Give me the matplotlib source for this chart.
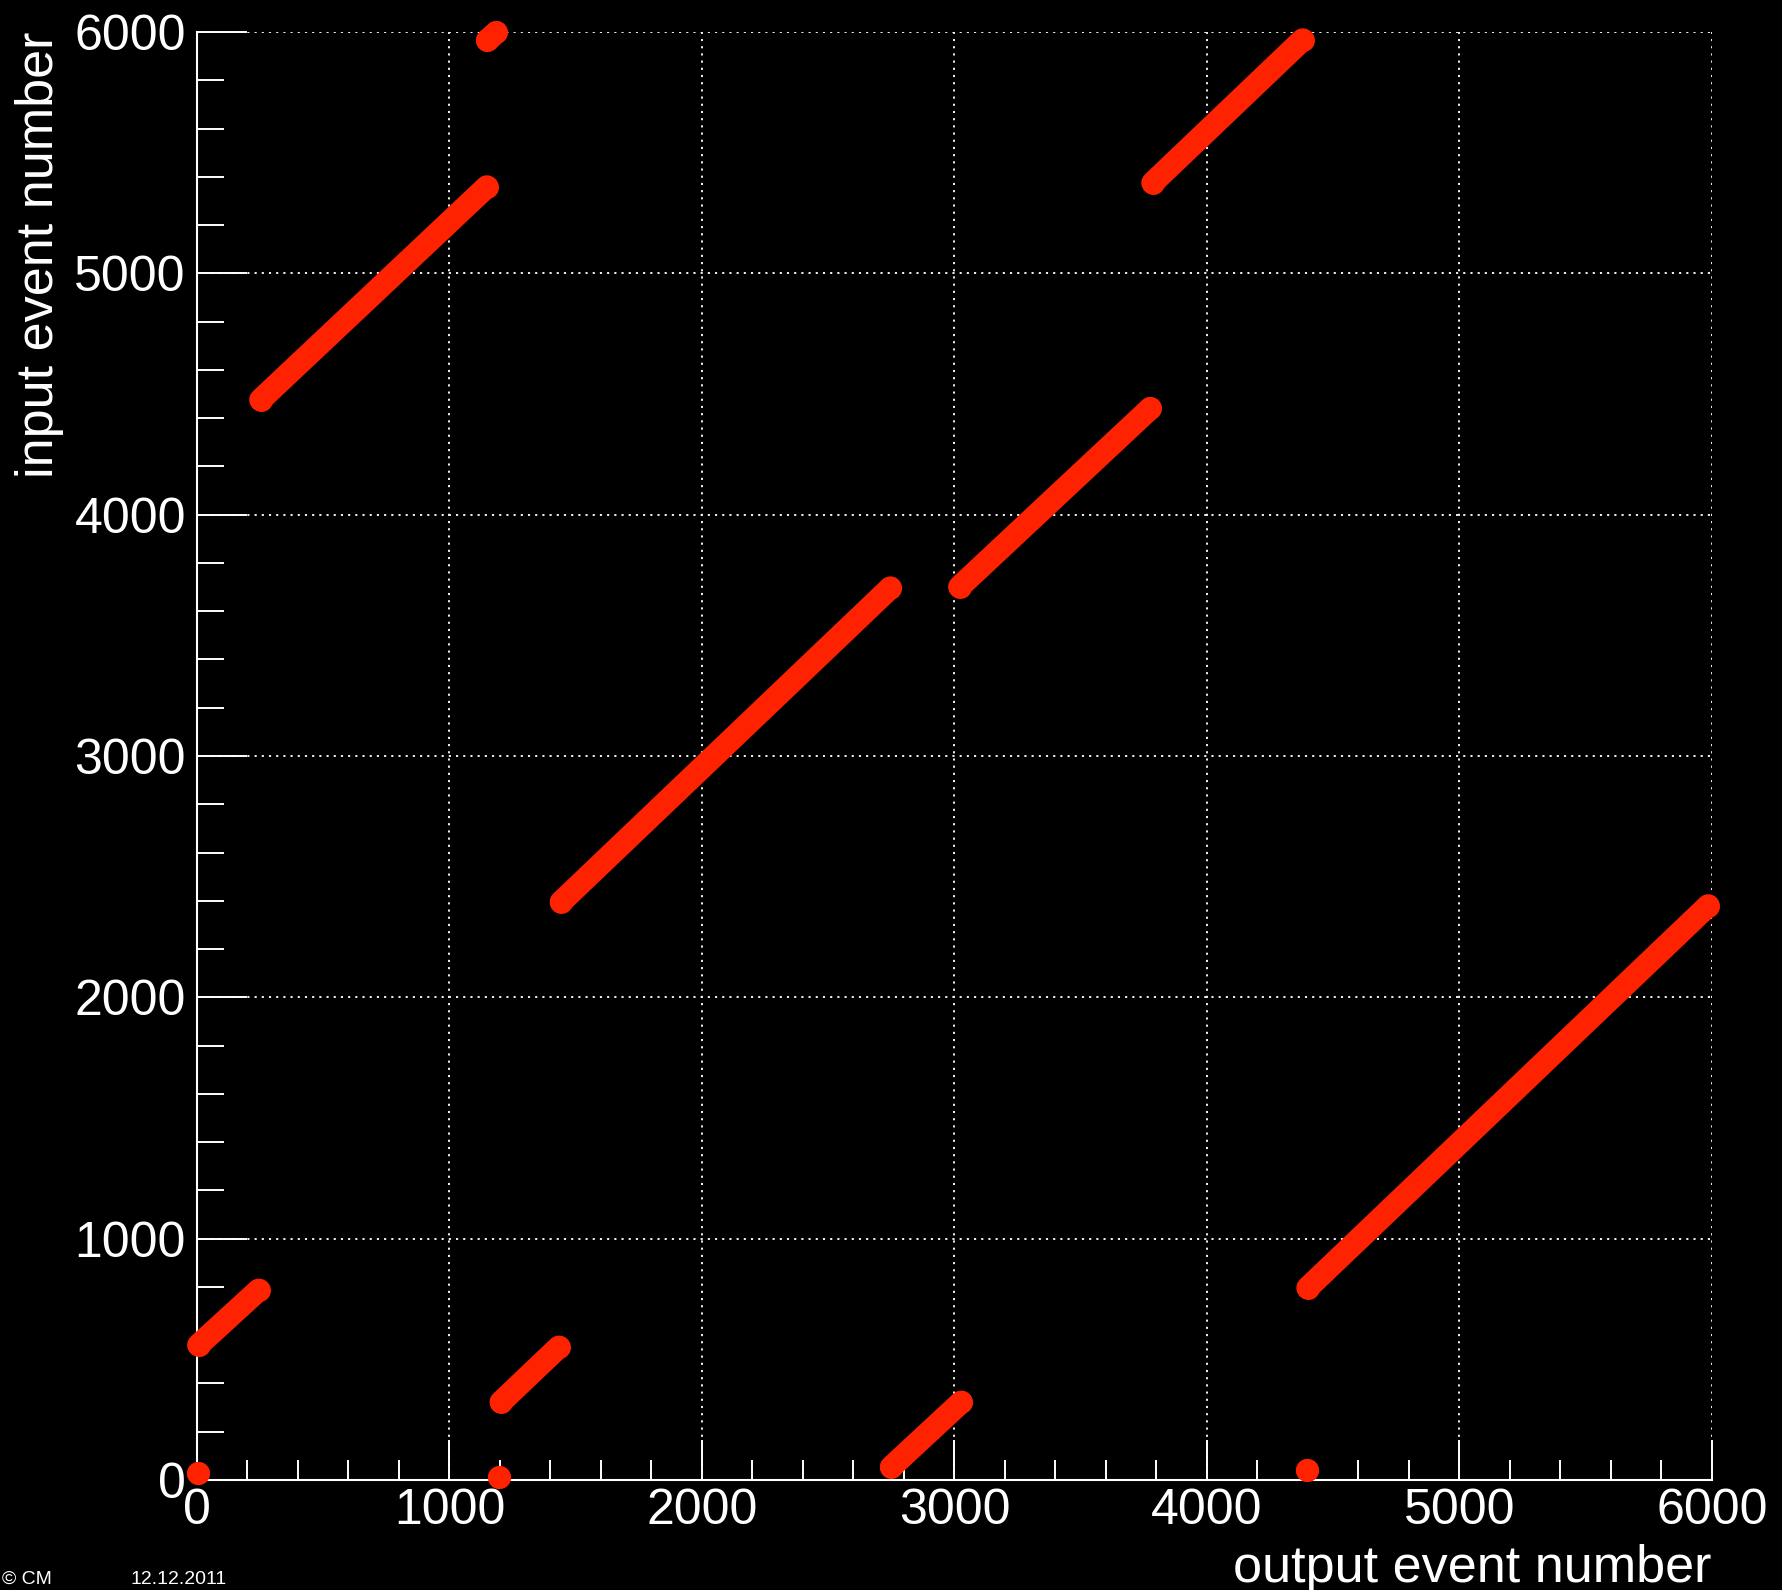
import matplotlib
matplotlib.use("Agg")
import matplotlib.pyplot as plt
from matplotlib.ticker import MultipleLocator

# Segments of the output->input event mapping (start/end points of each run)
out_start = [2, 6, 252, 1150, 1195, 1204, 1442, 2750, 3020, 3785, 4395, 4399]
out_end   = [2, 244, 1148, 1185, 1195, 1433, 2746, 3027, 3775, 4379, 4395, 5985]
in_start  = [29, 559, 4476, 5965, 12, 323, 2395, 54, 3701, 5375, 41, 796]
in_end    = [29, 787, 5359, 5998, 12, 551, 3697, 323, 4440, 5968, 41, 2380]

tick_values = [0, 1000, 2000, 3000, 4000, 5000, 6000]
tick_labels = ["0", "1000", "2000", "3000", "4000", "5000", "6000"]

plt.rcParams['font.family'] = ['Liberation Sans', 'DejaVu Sans']

W, H = 1783, 1590
fig = plt.figure(figsize=(W / 100, H / 100), dpi=100, facecolor='black')
ax = fig.add_axes([197 / W, 1 - 1480 / H, (1712 - 197) / W, (1480 - 32) / H])
ax.set_facecolor('black')

ax.set_xlim(0, 6000)
ax.set_ylim(0, 6000)

for s in ['top', 'right']:
    ax.spines[s].set_visible(False)
for s in ['left', 'bottom']:
    ax.spines[s].set_color('white')
    ax.spines[s].set_linewidth(1.5)
    ax.spines[s].set_zorder(2.5)

ax.set_xticks(tick_values)
ax.set_xticklabels(tick_labels)
ax.set_yticks(tick_values)
ax.set_yticklabels(tick_labels)
ax.xaxis.set_minor_locator(MultipleLocator(200))
ax.yaxis.set_minor_locator(MultipleLocator(200))

ax.tick_params(axis='x', which='major', direction='in', length=29, width=1.4,
               color='white', labelcolor='white', labelsize=36, pad=6,
               top=False)
ax.tick_params(axis='x', which='minor', direction='in', length=14.5, width=1.4,
               color='white', top=False)
ax.tick_params(axis='y', which='major', direction='in', length=36, width=1.4,
               color='white', labelcolor='white', labelsize=36, pad=8,
               right=False)
ax.tick_params(axis='y', which='minor', direction='in', length=19.5, width=1.4,
               color='white', right=False)

ax.grid(True, which='major', color='#f0f0f0', linewidth=1.4,
        linestyle=(0, (1.1, 2.6)))
ax.set_axisbelow(True)

for xs, xe, ys, ye in zip(out_start, out_end, in_start, in_end):
    ax.plot([xs, xe], [ys, ye], color='#ff2200', linewidth=16.5,
            solid_capstyle='round', marker='o', markersize=16.5,
            markeredgewidth=0, clip_on=False, zorder=3)

fig.text(1711 / W, 1 - 1582 / H, "output event number", color='white',
         fontsize=37.5, ha='right', va='baseline')
fig.text(40 / W, 1 - 32 / H, "input event number", color='white',
         fontsize=37.5, ha='center', va='top', rotation=90)

fig.text(2 / W, 2 / H, "© CM", color='white', fontsize=14,
         ha='left', va='bottom')
fig.text(130 / W, 2 / H, "12.12.2011", color='white', fontsize=14,
         ha='left', va='bottom')

fig.savefig("out.png", dpi=100, facecolor='black')
